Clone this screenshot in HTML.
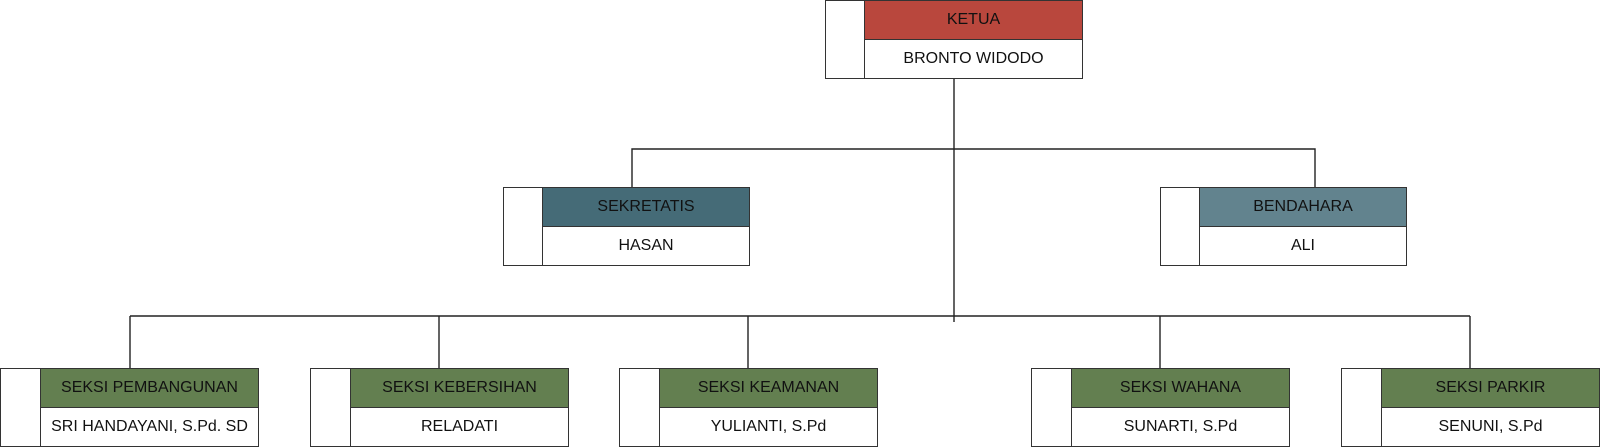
<!DOCTYPE html>
<html><head><meta charset="utf-8"><style>
html,body{margin:0;padding:0;background:#fff;}
body{width:1600px;height:446px;position:relative;overflow:hidden;font-family:"Liberation Sans",Arial,sans-serif;}
.n{position:absolute;box-sizing:border-box;border:1.5px solid #333;background:#fff;}
.n .side{position:absolute;left:0;top:0;bottom:0;border-right:1.5px solid #333;}
.n .t,.n .b{position:absolute;right:0;display:flex;align-items:center;justify-content:center;font-size:16px;color:#111;}
.n .t{top:0;height:38px;border-bottom:1.5px solid #333;}
.n .b{bottom:0;top:39px;}
svg{position:absolute;left:0;top:0;}
</style></head><body>
<svg width="1600" height="446">
<g stroke="#222" stroke-width="1.4" fill="none">
<line x1="954" y1="78" x2="954" y2="322"/>
<polyline points="632,187 632,149 1315,149 1315,187"/>
<line x1="130" y1="316" x2="1470" y2="316"/>
<line x1="130" y1="316" x2="130" y2="368"/>
<line x1="439" y1="316" x2="439" y2="368"/>
<line x1="748" y1="316" x2="748" y2="368"/>
<line x1="1160" y1="316" x2="1160" y2="368"/>
<line x1="1470" y1="316" x2="1470" y2="368"/>
</g></svg>

<div class="n" style="left:825px;top:0;width:258px;height:79px"><div class="side" style="width:38px"></div><div class="t" style="left:39px;background:#b9473d">KETUA</div><div class="b" style="left:39px">BRONTO WIDODO</div></div>

<div class="n" style="left:503px;top:187px;width:247px;height:79px"><div class="side" style="width:38px"></div><div class="t" style="left:39px;background:#456b77">SEKRETATIS</div><div class="b" style="left:39px">HASAN</div></div>

<div class="n" style="left:1160px;top:187px;width:247px;height:79px"><div class="side" style="width:38px"></div><div class="t" style="left:39px;background:#62838e">BENDAHARA</div><div class="b" style="left:39px">ALI</div></div>

<div class="n" style="left:0;top:368px;width:259px;height:79px"><div class="side" style="width:39px"></div><div class="t" style="left:40px;background:#637f50">SEKSI PEMBANGUNAN</div><div class="b" style="left:40px">SRI HANDAYANI, S.Pd. SD</div></div>

<div class="n" style="left:310px;top:368px;width:259px;height:79px"><div class="side" style="width:39px"></div><div class="t" style="left:40px;background:#637f50">SEKSI KEBERSIHAN</div><div class="b" style="left:40px">RELADATI</div></div>

<div class="n" style="left:619px;top:368px;width:259px;height:79px"><div class="side" style="width:39px"></div><div class="t" style="left:40px;background:#637f50">SEKSI KEAMANAN</div><div class="b" style="left:40px">YULIANTI, S.Pd</div></div>

<div class="n" style="left:1031px;top:368px;width:259px;height:79px"><div class="side" style="width:39px"></div><div class="t" style="left:40px;background:#637f50">SEKSI WAHANA</div><div class="b" style="left:40px">SUNARTI, S.Pd</div></div>

<div class="n" style="left:1341px;top:368px;width:259px;height:79px"><div class="side" style="width:39px"></div><div class="t" style="left:40px;background:#637f50">SEKSI PARKIR</div><div class="b" style="left:40px">SENUNI, S.Pd</div></div>
</body></html>
